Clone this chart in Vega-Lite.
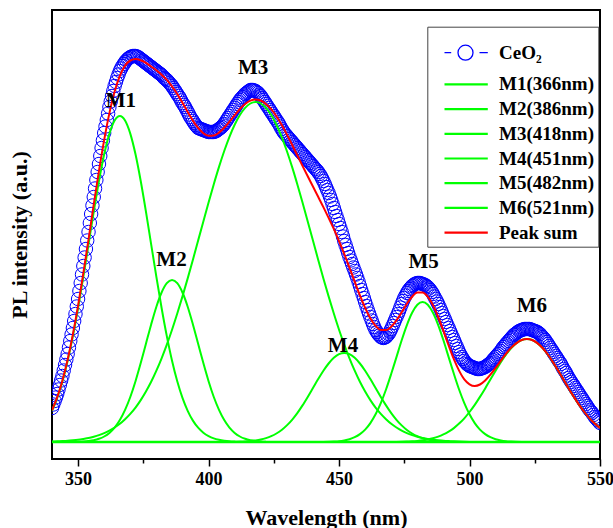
{
"$schema": "https://vega.github.io/schema/vega-lite/v6.json",
"width": 548, "height": 449,
"autosize": {"type": "none"},
"padding": {"left": 52, "top": 10, "right": 13, "bottom": 69},
"background": "white",
"config": {"view": {"stroke": "#000", "strokeWidth": 2}, "font": "Liberation Serif"},
"datasets": {
"ceo2": [
{"x":340,"y":34},{"x":340.5,"y":37.5},{"x":341,"y":41},{"x":341.5,"y":44.5},{"x":342,"y":48},{"x":342.5,"y":52.5},{"x":343,"y":57},{"x":343.5,"y":61.5},{"x":344,"y":66},{"x":344.5,"y":71.5},
{"x":345,"y":77},{"x":345.5,"y":82.5},{"x":346,"y":88},{"x":346.5,"y":94.5},{"x":347,"y":101},{"x":347.5,"y":107.5},{"x":348,"y":114},{"x":348.5,"y":121},{"x":349,"y":128},{"x":349.5,"y":135.5},
{"x":350,"y":143},{"x":350.5,"y":151},{"x":351,"y":159},{"x":351.5,"y":167.5},{"x":352,"y":176},{"x":352.5,"y":184.5},{"x":353,"y":193},{"x":353.5,"y":201.5},{"x":354,"y":210},{"x":354.5,"y":219},
{"x":355,"y":228},{"x":355.5,"y":236.5},{"x":356,"y":245},{"x":356.5,"y":253.5},{"x":357,"y":262},{"x":357.5,"y":270},{"x":358,"y":278},{"x":358.5,"y":286},{"x":359,"y":294},{"x":359.5,"y":301.5},
{"x":360,"y":309},{"x":360.5,"y":315.5},{"x":361,"y":322},{"x":361.5,"y":328.5},{"x":362,"y":335},{"x":362.5,"y":340.5},{"x":363,"y":346},{"x":363.5,"y":351},{"x":364,"y":356},{"x":364.5,"y":360},
{"x":365,"y":364},{"x":365.5,"y":367.5},{"x":366,"y":371},{"x":366.5,"y":373.5},{"x":367,"y":376},{"x":367.5,"y":378},{"x":368,"y":380},{"x":368.5,"y":381.5},{"x":369,"y":383},{"x":369.5,"y":384},
{"x":370,"y":385},{"x":370.5,"y":385.5},{"x":371,"y":386},{"x":371.5,"y":386},{"x":372,"y":386},{"x":372.5,"y":385.5},{"x":373,"y":385},{"x":373.5,"y":384},{"x":374,"y":383},{"x":374.5,"y":382},
{"x":375,"y":381},{"x":375.5,"y":380},{"x":376,"y":379},{"x":376.5,"y":378},{"x":377,"y":377},{"x":377.5,"y":376},{"x":378,"y":375},{"x":378.5,"y":374},{"x":379,"y":373},{"x":379.5,"y":372},
{"x":380,"y":371},{"x":380.5,"y":370},{"x":381,"y":369},{"x":381.5,"y":368},{"x":382,"y":367},{"x":382.5,"y":365.5},{"x":383,"y":364},{"x":383.5,"y":363},{"x":384,"y":362},{"x":384.5,"y":360.5},
{"x":385,"y":359},{"x":385.5,"y":357.5},{"x":386,"y":356},{"x":386.5,"y":354},{"x":387,"y":352},{"x":387.5,"y":350},{"x":388,"y":348},{"x":388.5,"y":346},{"x":389,"y":344},{"x":389.5,"y":341.5},
{"x":390,"y":339},{"x":390.5,"y":337},{"x":391,"y":335},{"x":391.5,"y":332.5},{"x":392,"y":330},{"x":392.5,"y":327.5},{"x":393,"y":325},{"x":393.5,"y":323},{"x":394,"y":321},{"x":394.5,"y":319},
{"x":395,"y":317},{"x":395.5,"y":315.5},{"x":396,"y":314},{"x":396.5,"y":313.5},{"x":397,"y":313},{"x":397.5,"y":312.5},{"x":398,"y":312},{"x":398.5,"y":311.5},{"x":399,"y":311},{"x":399.5,"y":310.5},
{"x":400,"y":310},{"x":400.5,"y":310},{"x":401,"y":310},{"x":401.5,"y":310},{"x":402,"y":310},{"x":402.5,"y":310.5},{"x":403,"y":311},{"x":403.5,"y":312},{"x":404,"y":313},{"x":404.5,"y":314},
{"x":405,"y":315},{"x":405.5,"y":316.5},{"x":406,"y":318},{"x":406.5,"y":320},{"x":407,"y":322},{"x":407.5,"y":324},{"x":408,"y":326},{"x":408.5,"y":328},{"x":409,"y":330},{"x":409.5,"y":332},
{"x":410,"y":334},{"x":410.5,"y":336},{"x":411,"y":338},{"x":411.5,"y":340},{"x":412,"y":342},{"x":412.5,"y":343.5},{"x":413,"y":345},{"x":413.5,"y":346.5},{"x":414,"y":348},{"x":414.5,"y":349},
{"x":415,"y":350},{"x":415.5,"y":351},{"x":416,"y":352},{"x":416.5,"y":352},{"x":417,"y":352},{"x":417.5,"y":351.5},{"x":418,"y":351},{"x":418.5,"y":350},{"x":419,"y":349},{"x":419.5,"y":347.5},
{"x":420,"y":346},{"x":420.5,"y":344},{"x":421,"y":342},{"x":421.5,"y":340},{"x":422,"y":338},{"x":422.5,"y":336},{"x":423,"y":334},{"x":423.5,"y":332},{"x":424,"y":330},{"x":424.5,"y":328},
{"x":425,"y":326},{"x":425.5,"y":324},{"x":426,"y":322},{"x":426.5,"y":320},{"x":427,"y":318},{"x":427.5,"y":315.5},{"x":428,"y":313},{"x":428.5,"y":311},{"x":429,"y":309},{"x":429.5,"y":307.5},
{"x":430,"y":306},{"x":430.5,"y":304.5},{"x":431,"y":303},{"x":431.5,"y":301.5},{"x":432,"y":300},{"x":432.5,"y":298.5},{"x":433,"y":297},{"x":433.5,"y":295.5},{"x":434,"y":294},{"x":434.5,"y":292.5},
{"x":435,"y":291},{"x":435.5,"y":289.5},{"x":436,"y":288},{"x":436.5,"y":286.5},{"x":437,"y":285},{"x":437.5,"y":283.5},{"x":438,"y":282},{"x":438.5,"y":280.5},{"x":439,"y":279},{"x":439.5,"y":277.5},
{"x":440,"y":276},{"x":440.5,"y":274.5},{"x":441,"y":273},{"x":441.5,"y":271.5},{"x":442,"y":270},{"x":442.5,"y":268},{"x":443,"y":266},{"x":443.5,"y":263.5},{"x":444,"y":261},{"x":444.5,"y":258},
{"x":445,"y":255},{"x":445.5,"y":252},{"x":446,"y":249},{"x":446.5,"y":245.5},{"x":447,"y":242},{"x":447.5,"y":238},{"x":448,"y":234},{"x":448.5,"y":230},{"x":449,"y":226},{"x":449.5,"y":222},
{"x":450,"y":218},{"x":450.5,"y":214},{"x":451,"y":210},{"x":451.5,"y":205.5},{"x":452,"y":201},{"x":452.5,"y":197},{"x":453,"y":193},{"x":453.5,"y":189},{"x":454,"y":185},{"x":454.5,"y":181.5},
{"x":455,"y":178},{"x":455.5,"y":174.5},{"x":456,"y":171},{"x":456.5,"y":167.5},{"x":457,"y":164},{"x":457.5,"y":160},{"x":458,"y":156},{"x":458.5,"y":152},{"x":459,"y":148},{"x":459.5,"y":144},
{"x":460,"y":140},{"x":460.5,"y":136},{"x":461,"y":132},{"x":461.5,"y":128.5},{"x":462,"y":125},{"x":462.5,"y":121.5},{"x":463,"y":118},{"x":463.5,"y":115},{"x":464,"y":112},{"x":464.5,"y":110},
{"x":465,"y":108},{"x":465.5,"y":106.5},{"x":466,"y":105},{"x":466.5,"y":104.5},{"x":467,"y":104},{"x":467.5,"y":104.5},{"x":468,"y":105},{"x":468.5,"y":106.5},{"x":469,"y":108},{"x":469.5,"y":110.5},
{"x":470,"y":113},{"x":470.5,"y":116},{"x":471,"y":119},{"x":471.5,"y":122},{"x":472,"y":125},{"x":472.5,"y":128},{"x":473,"y":131},{"x":473.5,"y":134.5},{"x":474,"y":138},{"x":474.5,"y":141},
{"x":475,"y":144},{"x":475.5,"y":146.5},{"x":476,"y":149},{"x":476.5,"y":151},{"x":477,"y":153},{"x":477.5,"y":154.5},{"x":478,"y":156},{"x":478.5,"y":157},{"x":479,"y":158},{"x":479.5,"y":158.5},
{"x":480,"y":159},{"x":480.5,"y":159},{"x":481,"y":159},{"x":481.5,"y":158.5},{"x":482,"y":158},{"x":482.5,"y":157.5},{"x":483,"y":157},{"x":483.5,"y":156},{"x":484,"y":155},{"x":484.5,"y":153.5},
{"x":485,"y":152},{"x":485.5,"y":150},{"x":486,"y":148},{"x":486.5,"y":145.5},{"x":487,"y":143},{"x":487.5,"y":140.5},{"x":488,"y":138},{"x":488.5,"y":135},{"x":489,"y":132},{"x":489.5,"y":129},
{"x":490,"y":126},{"x":490.5,"y":123},{"x":491,"y":120},{"x":491.5,"y":117},{"x":492,"y":114},{"x":492.5,"y":111},{"x":493,"y":108},{"x":493.5,"y":105},{"x":494,"y":102},{"x":494.5,"y":99},
{"x":495,"y":96},{"x":495.5,"y":93},{"x":496,"y":90},{"x":496.5,"y":87.5},{"x":497,"y":85},{"x":497.5,"y":83},{"x":498,"y":81},{"x":498.5,"y":79.5},{"x":499,"y":78},{"x":499.5,"y":77},
{"x":500,"y":76},{"x":500.5,"y":75.5},{"x":501,"y":75},{"x":501.5,"y":74.5},{"x":502,"y":74},{"x":502.5,"y":73.5},{"x":503,"y":73},{"x":503.5,"y":73},{"x":504,"y":73},{"x":504.5,"y":73.5},
{"x":505,"y":74},{"x":505.5,"y":74.5},{"x":506,"y":75},{"x":506.5,"y":76},{"x":507,"y":77},{"x":507.5,"y":78},{"x":508,"y":79},{"x":508.5,"y":80.5},{"x":509,"y":82},{"x":509.5,"y":83.5},
{"x":510,"y":85},{"x":510.5,"y":86.5},{"x":511,"y":88},{"x":511.5,"y":89.5},{"x":512,"y":91},{"x":512.5,"y":93},{"x":513,"y":95},{"x":513.5,"y":96.5},{"x":514,"y":98},{"x":514.5,"y":99.5},
{"x":515,"y":101},{"x":515.5,"y":102.5},{"x":516,"y":104},{"x":516.5,"y":105.5},{"x":517,"y":107},{"x":517.5,"y":108},{"x":518,"y":109},{"x":518.5,"y":110},{"x":519,"y":111},{"x":519.5,"y":111.5},
{"x":520,"y":112},{"x":520.5,"y":112.5},{"x":521,"y":113},{"x":521.5,"y":113},{"x":522,"y":113},{"x":522.5,"y":113},{"x":523,"y":113},{"x":523.5,"y":112.5},{"x":524,"y":112},{"x":524.5,"y":111.5},
{"x":525,"y":111},{"x":525.5,"y":110.5},{"x":526,"y":110},{"x":526.5,"y":109},{"x":527,"y":108},{"x":527.5,"y":106.5},{"x":528,"y":105},{"x":528.5,"y":103.5},{"x":529,"y":102},{"x":529.5,"y":100},
{"x":530,"y":98},{"x":530.5,"y":96},{"x":531,"y":94},{"x":531.5,"y":92},{"x":532,"y":90},{"x":532.5,"y":88},{"x":533,"y":86},{"x":533.5,"y":84},{"x":534,"y":82},{"x":534.5,"y":80},
{"x":535,"y":78},{"x":535.5,"y":75.5},{"x":536,"y":73},{"x":536.5,"y":71},{"x":537,"y":69},{"x":537.5,"y":66.5},{"x":538,"y":64},{"x":538.5,"y":62},{"x":539,"y":60},{"x":539.5,"y":58},
{"x":540,"y":56},{"x":540.5,"y":54},{"x":541,"y":52},{"x":541.5,"y":50},{"x":542,"y":48},{"x":542.5,"y":46},{"x":543,"y":44},{"x":543.5,"y":42},{"x":544,"y":40},{"x":544.5,"y":38},
{"x":545,"y":36},{"x":545.5,"y":34},{"x":546,"y":32},{"x":546.5,"y":30.5},{"x":547,"y":29},{"x":547.5,"y":27},{"x":548,"y":25},{"x":548.5,"y":23.5},{"x":549,"y":22},{"x":549.5,"y":20.5},{"x":550,"y":19}
],
"greens": [
{"s":"M1","x":340,"y":31.2},{"s":"M1","x":342,"y":44.1},{"s":"M1","x":344,"y":60.7},{"s":"M1","x":346,"y":81.3},{"s":"M1","x":348,"y":105.9},{"s":"M1","x":350,"y":134},{"s":"M1","x":352,"y":165.1},{"s":"M1","x":354,"y":197.7},{"s":"M1","x":356,"y":230.4},{"s":"M1","x":358,"y":261},{"s":"M1","x":360,"y":287.7},{"s":"M1","x":362,"y":308.4},{"s":"M1","x":364,"y":321.5},{"s":"M1","x":366,"y":326},{"s":"M1","x":368,"y":321.5},{"s":"M1","x":370,"y":308.4},{"s":"M1","x":372,"y":287.7},{"s":"M1","x":374,"y":261},{"s":"M1","x":376,"y":230.4},{"s":"M1","x":378,"y":197.7},{"s":"M1","x":380,"y":165.1},{"s":"M1","x":382,"y":134},{"s":"M1","x":384,"y":105.9},{"s":"M1","x":386,"y":81.3},{"s":"M1","x":388,"y":60.7},{"s":"M1","x":390,"y":44.1},{"s":"M1","x":392,"y":31.2},{"s":"M1","x":394,"y":21.4},{"s":"M1","x":396,"y":14.3},{"s":"M1","x":398,"y":9.3},{"s":"M1","x":400,"y":5.9},{"s":"M1","x":402,"y":3.6},{"s":"M1","x":404,"y":2.2},{"s":"M1","x":406,"y":1.3},{"s":"M1","x":408,"y":0.7},{"s":"M1","x":410,"y":0.4},{"s":"M1","x":412,"y":0.2},{"s":"M1","x":416,"y":0},
{"s":"M2","x":350,"y":0.2},{"s":"M2","x":352,"y":0.5},{"s":"M2","x":354,"y":1},{"s":"M2","x":356,"y":1.8},{"s":"M2","x":358,"y":3.2},{"s":"M2","x":360,"y":5.5},{"s":"M2","x":362,"y":9.1},{"s":"M2","x":364,"y":14.4},{"s":"M2","x":366,"y":21.9},{"s":"M2","x":368,"y":32.1},{"s":"M2","x":370,"y":45},{"s":"M2","x":372,"y":60.8},{"s":"M2","x":374,"y":78.9},{"s":"M2","x":376,"y":98.3},{"s":"M2","x":378,"y":117.6},{"s":"M2","x":380,"y":135.3},{"s":"M2","x":382,"y":149.5},{"s":"M2","x":384,"y":158.8},{"s":"M2","x":386,"y":162},{"s":"M2","x":388,"y":158.8},{"s":"M2","x":390,"y":149.5},{"s":"M2","x":392,"y":135.3},{"s":"M2","x":394,"y":117.6},{"s":"M2","x":396,"y":98.3},{"s":"M2","x":398,"y":78.9},{"s":"M2","x":400,"y":60.8},{"s":"M2","x":402,"y":45},{"s":"M2","x":404,"y":32.1},{"s":"M2","x":406,"y":21.9},{"s":"M2","x":408,"y":14.4},{"s":"M2","x":410,"y":9.1},{"s":"M2","x":412,"y":5.5},{"s":"M2","x":414,"y":3.2},{"s":"M2","x":416,"y":1.8},{"s":"M2","x":418,"y":1},{"s":"M2","x":420,"y":0.5},{"s":"M2","x":422,"y":0.2},
{"s":"M3","x":340,"y":0.5},{"s":"M3","x":342,"y":0.7},{"s":"M3","x":344,"y":0.9},{"s":"M3","x":346,"y":1.2},{"s":"M3","x":348,"y":1.7},{"s":"M3","x":350,"y":2.3},{"s":"M3","x":352,"y":3.1},{"s":"M3","x":354,"y":4},{"s":"M3","x":356,"y":5.3},{"s":"M3","x":358,"y":6.9},{"s":"M3","x":360,"y":8.9},{"s":"M3","x":362,"y":11.4},{"s":"M3","x":364,"y":14.5},{"s":"M3","x":366,"y":18.2},{"s":"M3","x":368,"y":22.8},{"s":"M3","x":370,"y":28.1},{"s":"M3","x":372,"y":34.4},{"s":"M3","x":374,"y":41.9},{"s":"M3","x":376,"y":50.5},{"s":"M3","x":378,"y":60.2},{"s":"M3","x":380,"y":71.3},{"s":"M3","x":382,"y":83.7},{"s":"M3","x":384,"y":97.4},{"s":"M3","x":386,"y":112.3},{"s":"M3","x":388,"y":128.5},{"s":"M3","x":390,"y":145.6},{"s":"M3","x":392,"y":163.6},{"s":"M3","x":394,"y":182.3},{"s":"M3","x":396,"y":201.5},{"s":"M3","x":398,"y":220.6},{"s":"M3","x":400,"y":239.5},{"s":"M3","x":402,"y":257.8},{"s":"M3","x":404,"y":275.1},{"s":"M3","x":406,"y":291},{"s":"M3","x":408,"y":305.2},{"s":"M3","x":410,"y":317.3},{"s":"M3","x":412,"y":327},{"s":"M3","x":414,"y":334.2},{"s":"M3","x":416,"y":338.5},{"s":"M3","x":418,"y":340},{"s":"M3","x":420,"y":338.5},{"s":"M3","x":422,"y":334.2},{"s":"M3","x":424,"y":327},{"s":"M3","x":426,"y":317.3},{"s":"M3","x":428,"y":305.2},{"s":"M3","x":430,"y":291},{"s":"M3","x":432,"y":275.1},{"s":"M3","x":434,"y":257.8},{"s":"M3","x":436,"y":239.5},{"s":"M3","x":438,"y":220.6},{"s":"M3","x":440,"y":201.5},{"s":"M3","x":442,"y":182.3},{"s":"M3","x":444,"y":163.6},{"s":"M3","x":446,"y":145.6},{"s":"M3","x":448,"y":128.5},{"s":"M3","x":450,"y":112.3},{"s":"M3","x":452,"y":97.4},{"s":"M3","x":454,"y":83.7},{"s":"M3","x":456,"y":71.3},{"s":"M3","x":458,"y":60.2},{"s":"M3","x":460,"y":50.5},{"s":"M3","x":462,"y":41.9},{"s":"M3","x":464,"y":34.4},{"s":"M3","x":466,"y":28.1},{"s":"M3","x":468,"y":22.8},{"s":"M3","x":470,"y":18.2},{"s":"M3","x":472,"y":14.5},{"s":"M3","x":474,"y":11.4},{"s":"M3","x":476,"y":8.9},{"s":"M3","x":478,"y":6.9},{"s":"M3","x":480,"y":5.3},{"s":"M3","x":482,"y":4},{"s":"M3","x":484,"y":3.1},{"s":"M3","x":486,"y":2.3},{"s":"M3","x":488,"y":1.7},{"s":"M3","x":490,"y":1.2},{"s":"M3","x":492,"y":0.9},{"s":"M3","x":494,"y":0.7},{"s":"M3","x":496,"y":0.5},{"s":"M3","x":500,"y":0},
{"s":"M4","x":408,"y":0},{"s":"M4","x":412,"y":0.3},{"s":"M4","x":414,"y":0.6},{"s":"M4","x":416,"y":1},{"s":"M4","x":418,"y":1.6},{"s":"M4","x":420,"y":2.5},{"s":"M4","x":422,"y":3.9},{"s":"M4","x":424,"y":5.8},{"s":"M4","x":426,"y":8.5},{"s":"M4","x":428,"y":12},{"s":"M4","x":430,"y":16.6},{"s":"M4","x":432,"y":22.2},{"s":"M4","x":434,"y":28.9},{"s":"M4","x":436,"y":36.6},{"s":"M4","x":438,"y":45.1},{"s":"M4","x":440,"y":54},{"s":"M4","x":442,"y":62.9},{"s":"M4","x":444,"y":71.3},{"s":"M4","x":446,"y":78.5},{"s":"M4","x":448,"y":84.2},{"s":"M4","x":450,"y":87.8},{"s":"M4","x":452,"y":89},{"s":"M4","x":454,"y":87.8},{"s":"M4","x":456,"y":84.2},{"s":"M4","x":458,"y":78.5},{"s":"M4","x":460,"y":71.3},{"s":"M4","x":462,"y":62.9},{"s":"M4","x":464,"y":54},{"s":"M4","x":466,"y":45.1},{"s":"M4","x":468,"y":36.6},{"s":"M4","x":470,"y":28.9},{"s":"M4","x":472,"y":22.2},{"s":"M4","x":474,"y":16.6},{"s":"M4","x":476,"y":12},{"s":"M4","x":478,"y":8.5},{"s":"M4","x":480,"y":5.8},{"s":"M4","x":482,"y":3.9},{"s":"M4","x":484,"y":2.5},{"s":"M4","x":486,"y":1.6},{"s":"M4","x":488,"y":1},{"s":"M4","x":490,"y":0.6},{"s":"M4","x":492,"y":0.3},{"s":"M4","x":496,"y":0},
{"s":"M5","x":444,"y":0},{"s":"M5","x":448,"y":0.4},{"s":"M5","x":450,"y":0.8},{"s":"M5","x":452,"y":1.6},{"s":"M5","x":454,"y":2.8},{"s":"M5","x":456,"y":4.8},{"s":"M5","x":458,"y":7.9},{"s":"M5","x":460,"y":12.4},{"s":"M5","x":462,"y":18.9},{"s":"M5","x":464,"y":27.7},{"s":"M5","x":466,"y":38.9},{"s":"M5","x":468,"y":52.5},{"s":"M5","x":470,"y":68.2},{"s":"M5","x":472,"y":84.9},{"s":"M5","x":474,"y":101.7},{"s":"M5","x":476,"y":116.9},{"s":"M5","x":478,"y":129.2},{"s":"M5","x":480,"y":137.2},{"s":"M5","x":482,"y":140},{"s":"M5","x":484,"y":137.2},{"s":"M5","x":486,"y":129.2},{"s":"M5","x":488,"y":116.9},{"s":"M5","x":490,"y":101.7},{"s":"M5","x":492,"y":84.9},{"s":"M5","x":494,"y":68.2},{"s":"M5","x":496,"y":52.5},{"s":"M5","x":498,"y":38.9},{"s":"M5","x":500,"y":27.7},{"s":"M5","x":502,"y":18.9},{"s":"M5","x":504,"y":12.4},{"s":"M5","x":506,"y":7.9},{"s":"M5","x":508,"y":4.8},{"s":"M5","x":510,"y":2.8},{"s":"M5","x":512,"y":1.6},{"s":"M5","x":514,"y":0.8},{"s":"M5","x":516,"y":0.4},{"s":"M5","x":520,"y":0},
{"s":"M6","x":472,"y":0},{"s":"M6","x":476,"y":0.5},{"s":"M6","x":478,"y":0.7},{"s":"M6","x":480,"y":1.1},{"s":"M6","x":482,"y":1.7},{"s":"M6","x":484,"y":2.6},{"s":"M6","x":486,"y":3.8},{"s":"M6","x":488,"y":5.4},{"s":"M6","x":490,"y":7.6},{"s":"M6","x":492,"y":10.4},{"s":"M6","x":494,"y":13.9},{"s":"M6","x":496,"y":18.4},{"s":"M6","x":498,"y":23.7},{"s":"M6","x":500,"y":30},{"s":"M6","x":502,"y":37.1},{"s":"M6","x":504,"y":45.1},{"s":"M6","x":506,"y":53.6},{"s":"M6","x":508,"y":62.5},{"s":"M6","x":510,"y":71.3},{"s":"M6","x":512,"y":79.8},{"s":"M6","x":514,"y":87.5},{"s":"M6","x":516,"y":94},{"s":"M6","x":518,"y":98.9},{"s":"M6","x":520,"y":102},{"s":"M6","x":522,"y":103},{"s":"M6","x":524,"y":102},{"s":"M6","x":526,"y":98.9},{"s":"M6","x":528,"y":94},{"s":"M6","x":530,"y":87.5},{"s":"M6","x":532,"y":79.8},{"s":"M6","x":534,"y":71.3},{"s":"M6","x":536,"y":62.5},{"s":"M6","x":538,"y":53.6},{"s":"M6","x":540,"y":45.1},{"s":"M6","x":542,"y":37.1},{"s":"M6","x":544,"y":30},{"s":"M6","x":546,"y":23.7},{"s":"M6","x":548,"y":18.4},{"s":"M6","x":550,"y":13.9}
],
"sum": [
{"x":340,"y":31.7},{"x":342,"y":44.8},{"x":344,"y":61.6},{"x":346,"y":82.5},{"x":348,"y":107.6},{"x":350,"y":136.3},{"x":352,"y":168.7},{"x":354,"y":202.7},{"x":356,"y":237.5},{"x":358,"y":271.1},
{"x":360,"y":302.1},{"x":362,"y":328.9},{"x":364,"y":350.4},{"x":366,"y":366.1},{"x":368,"y":376.4},{"x":370,"y":381.5},{"x":372,"y":382.9},{"x":374,"y":381.8},{"x":376,"y":379.2},{"x":378,"y":375.5},
{"x":380,"y":371.7},{"x":382,"y":367.2},{"x":384,"y":362.1},{"x":386,"y":355.6},{"x":388,"y":348},{"x":390,"y":339.2},{"x":392,"y":330.1},{"x":394,"y":321.3},{"x":396,"y":314.1},{"x":398,"y":308.8},
{"x":400,"y":306.2},{"x":402,"y":306.4},{"x":404,"y":309.4},{"x":406,"y":314.2},{"x":408,"y":320.3},{"x":410,"y":326.8},{"x":412,"y":333},{"x":414,"y":338},{"x":416,"y":341.3},{"x":418,"y":342.6},
{"x":420,"y":341.5},{"x":422,"y":338.1},{"x":424,"y":332.8},{"x":426,"y":325.8},{"x":428,"y":317.2},{"x":430,"y":307.6},{"x":432,"y":297.3},{"x":434,"y":286.7},{"x":436,"y":276.1},{"x":438,"y":265.7},
{"x":440,"y":255.5},{"x":442,"y":245.2},{"x":444,"y":234.9},{"x":446,"y":224.1},{"x":448,"y":213.1},{"x":450,"y":200.9},{"x":452,"y":188},{"x":454,"y":174.3},{"x":456,"y":160.3},{"x":458,"y":146.6},
{"x":460,"y":134.2},{"x":462,"y":123.7},{"x":464,"y":116.1},{"x":466,"y":112.1},{"x":468,"y":111.9},{"x":470,"y":115.3},{"x":472,"y":121.6},{"x":474,"y":129.7},{"x":476,"y":138.3},{"x":478,"y":145.3},
{"x":480,"y":149.4},{"x":482,"y":149.6},{"x":484,"y":145.4},{"x":486,"y":136.9},{"x":488,"y":125},{"x":490,"y":111.1},{"x":492,"y":96.5},{"x":494,"y":82.8},{"x":496,"y":71.4},{"x":498,"y":62.6},
{"x":500,"y":57.7},{"x":502,"y":56},{"x":504,"y":57.5},{"x":506,"y":61.5},{"x":508,"y":67.3},{"x":510,"y":74.1},{"x":512,"y":81.4},{"x":514,"y":88.3},{"x":516,"y":94.4},{"x":518,"y":98.9},
{"x":520,"y":102},{"x":522,"y":103},{"x":524,"y":102},{"x":526,"y":98.9},{"x":528,"y":94},{"x":530,"y":87.5},{"x":532,"y":79.8},{"x":534,"y":71.3},{"x":536,"y":62.5},{"x":538,"y":53.6},
{"x":540,"y":45.1},{"x":542,"y":37.1},{"x":544,"y":30},{"x":546,"y":23.7},{"x":548,"y":18.4},{"x":550,"y":13.9}
],
"labels": [
{"t":"M1","x":366.4,"y":341.5},{"t":"M2","x":385.8,"y":182.5},{"t":"M3","x":417.1,"y":374.5},
{"t":"M4","x":451.5,"y":96.2},{"t":"M5","x":482.4,"y":180.2},{"t":"M6","x":523.9,"y":136}
],
"legendItems": [
{"s":"CeO₂"},{"s":"M1(366nm)"},{"s":"M2(386nm)"},{"s":"M3(418nm)"},{"s":"M4(451nm)"},{"s":"M5(482nm)"},{"s":"M6(521nm)"},{"s":"Peak sum"}
]
},
"resolve": {"axis": {"x": "independent", "y": "independent"}},
"layer": [
{
"data": {"name": "ceo2"},
"mark": {"type": "point", "shape": "circle", "filled": false, "size": 180, "strokeWidth": 1, "opacity": 1, "color": "#0000ff", "clip": true},
"encoding": {
"x": {"field": "x", "type": "quantitative", "scale": {"domain": [340, 550], "nice": false, "zero": false},
"axis": {"orient": "bottom", "values": [350, 400, 450, 500, 550], "tickSize": 7, "tickWidth": 1.5, "tickColor": "#000", "domain": false, "grid": false, "labelFlush": false, "labelOverlap": false, "labelFont": "Liberation Serif", "labelFontWeight": "bold", "labelFontSize": 18, "labelColor": "#000", "labelPadding": 4, "title": "Wavelength (nm)", "titleFont": "Liberation Serif", "titleFontWeight": "bold", "titleFontSize": 22, "titleColor": "#000", "titleY": 58, "titleBaseline": "middle"}},
"y": {"field": "y", "type": "quantitative", "scale": {"domain": [-17, 432], "nice": false, "zero": false},
"axis": {"orient": "left", "title": "PL intensity (a.u.)", "labels": false, "ticks": false, "domain": false, "grid": false, "titleFont": "Liberation Serif", "titleFontWeight": "bold", "titleFontSize": 22, "titleColor": "#000", "titleX": -33, "titleY": 224.5, "titleAngle": 270, "titleBaseline": "middle", "titleAlign": "center"}}
}
},
{
"data": {"values": [{}]},
"mark": {"type": "rule", "color": "#00ff00", "strokeWidth": 2.5},
"encoding": {"y": {"datum": 0, "type": "quantitative", "scale": {"domain": [-17, 432], "nice": false, "zero": false}, "axis": null}}
},
{
"data": {"name": "greens"},
"mark": {"type": "line", "strokeWidth": 2, "interpolate": "monotone", "color": "#00ff00", "clip": true},
"encoding": {
"x": {"field": "x", "type": "quantitative", "scale": {"domain": [340, 550], "nice": false, "zero": false},
"axis": {"orient": "bottom", "values": [375, 425, 475, 525], "tickSize": 4, "tickWidth": 1.5, "tickColor": "#000", "labels": false, "domain": false, "grid": false, "title": null}},
"y": {"field": "y", "type": "quantitative", "scale": {"domain": [-17, 432], "nice": false, "zero": false}, "axis": null},
"detail": {"field": "s"}
}
},
{
"data": {"name": "sum"},
"mark": {"type": "line", "strokeWidth": 2, "interpolate": "monotone", "color": "#ff0000", "clip": true},
"encoding": {
"x": {"field": "x", "type": "quantitative", "scale": {"domain": [340, 550], "nice": false, "zero": false}, "axis": null},
"y": {"field": "y", "type": "quantitative", "scale": {"domain": [-17, 432], "nice": false, "zero": false}, "axis": null}
}
},
{
"data": {"name": "labels"},
"mark": {"type": "text", "font": "Liberation Serif", "fontWeight": "bold", "fontSize": 21, "color": "#000", "align": "center", "baseline": "middle"},
"encoding": {
"x": {"field": "x", "type": "quantitative", "scale": {"domain": [340, 550], "nice": false, "zero": false}, "axis": null},
"y": {"field": "y", "type": "quantitative", "scale": {"domain": [-17, 432], "nice": false, "zero": false}, "axis": null},
"text": {"field": "t"}
}
},
{
"data": {"name": "legendItems"},
"mark": {"type": "point", "opacity": 0, "filled": false},
"encoding": {
"color": {"field": "s", "type": "nominal",
"scale": {"domain": ["CeO₂", "M1(366nm)", "M2(386nm)", "M3(418nm)", "M4(451nm)", "M5(482nm)", "M6(521nm)", "Peak sum"], "range": ["#0000ff", "#00ff00", "#00ff00", "#00ff00", "#00ff00", "#00ff00", "#00ff00", "#ff0000"]},
"legend": {"title": " ", "titleFontSize": 8, "titlePadding": 4.5, "orient": "none", "legendX": 375.3, "legendY": 16.7, "padding": 4, "strokeColor": "#444", "fillColor": "#ffffff", "symbolSize": 100, "symbolStrokeWidth": 2, "symbolOpacity": 1, "symbolFillColor": "transparent", "rowPadding": 4.7, "labelOffset": 48.7, "labelFont": "Liberation Serif", "labelFontWeight": "bold", "labelFontSize": 19, "labelColor": "#000",
"encoding": {"symbols": {
"shape": {"value": {"expr": "datum.value === 'CeO₂' ? 'M0.74,0L2.08,0M3.44,0A1.5,1.5,0,1,1,6.44,0A1.5,1.5,0,1,1,3.44,0M7.74,0L9.4,0M5,2.9' : 'M0.74,0L9.4,0'"}},
"fill": {"value": "transparent"},
"opacity": {"value": 1},
"strokeWidth": {"value": {"expr": "datum.value === 'CeO₂' ? 1.3 : 2.2"}}}}}
}
}
}
]
}
